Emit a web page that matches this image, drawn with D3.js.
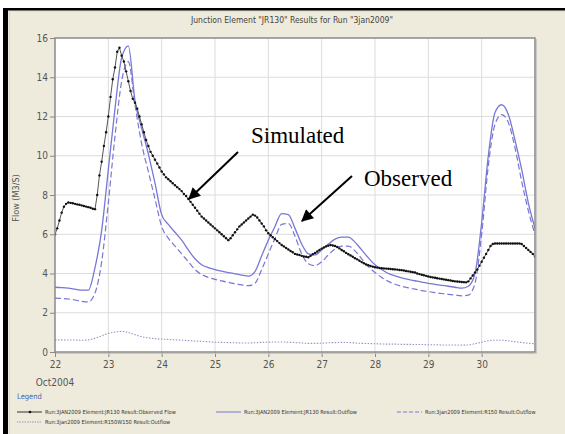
<!DOCTYPE html>
<html><head><meta charset="utf-8">
<script src="https://cdn.jsdelivr.net/npm/d3@7"></script>
<style>
html,body{margin:0;padding:0;background:#fff;}
svg{display:block;}
</style></head>
<body>
<svg id="chart" width="565" height="434"></svg>
<script>
// ---------------- DATA ----------------
const chartTitle = 'Junction Element "JR130" Results for Run "3jan2009"';
const yLabel = "Flow (M3/S)";
const xTickValues = [22, 23, 24, 25, 26, 27, 28, 29, 30];
const xTickLabels = ["22", "23", "24", "25", "26", "27", "28", "29", "30"];
const yTickValues = [0, 2, 4, 6, 8, 10, 12, 14, 16];
const monthLabel = "Oct2004";

// observed flow, hourly from Oct 22 00:00
const obsStartDay = 22, obsStepHours = 1;
const observedFlow = [
  6.0,6.3,6.7,7.1,7.4,7.55,7.62,7.6,7.58,7.55,7.52,7.5,7.47,7.44,7.41,7.38,7.35,7.3,7.28,8.0,9.0,9.7,10.5,11.2,
  12.0,13.0,13.9,14.5,15.3,15.5,15.1,14.8,14.3,13.8,13.3,12.9,12.7,12.4,12.0,11.6,11.2,10.8,10.5,10.2,10.0,9.8,9.6,9.4,
  9.2,9.05,8.9,8.8,8.7,8.6,8.5,8.4,8.3,8.2,8.05,7.95,7.8,7.65,7.5,7.35,7.2,7.05,6.9,6.8,6.7,6.6,6.5,6.4,
  6.3,6.2,6.1,6.0,5.9,5.8,5.7,5.8,5.95,6.1,6.25,6.4,6.5,6.6,6.7,6.8,6.9,7.0,6.95,6.85,6.7,6.55,6.4,6.2,
  6.05,5.95,5.85,5.75,5.65,5.55,5.45,5.38,5.3,5.22,5.15,5.08,5.0,4.97,4.94,4.9,4.87,4.85,4.83,4.9,4.98,5.05,5.12,5.2,
  5.27,5.33,5.38,5.42,5.45,5.43,5.4,5.35,5.28,5.2,5.13,5.05,4.98,4.92,4.85,4.78,4.72,4.65,4.58,4.52,4.46,4.42,4.38,4.35,
  4.32,4.3,4.28,4.27,4.26,4.25,4.24,4.23,4.22,4.21,4.2,4.18,4.17,4.15,4.13,4.11,4.09,4.07,4.05,4.0,3.97,3.94,3.91,3.88,
  3.85,3.82,3.8,3.78,3.76,3.74,3.72,3.7,3.68,3.66,3.64,3.62,3.6,3.59,3.58,3.57,3.56,3.55,3.6,3.75,3.9,4.05,4.2,4.4,
  4.6,4.8,5.0,5.2,5.4,5.5,5.53,5.53,5.53,5.53,5.53,5.53,5.53,5.53,5.53,5.53,5.53,5.53,5.5,5.4,5.3,5.2,5.1,5.0,
  4.85
];

// simulated results, every 3 hours from Oct 22 00:00
const simStartDay = 22, simStepHours = 3;
const jr130Outflow = [
  3.3,3.28,3.25,3.2,3.15,3.15,4.3,6.2,9.3,12.4,15.0,15.6,12.8,11.4,10.1,8.6,
  7.0,6.5,6.1,5.7,5.2,4.75,4.45,4.3,4.2,4.12,4.05,3.98,3.92,3.87,4.1,4.9,
  5.7,6.4,7.05,7.0,6.3,5.5,5.0,4.95,5.2,5.5,5.75,5.85,5.85,5.6,5.2,4.8,
  4.45,4.2,4.0,3.88,3.78,3.7,3.63,3.56,3.5,3.45,3.4,3.35,3.3,3.25,3.35,4.0,
  6.6,10.0,12.2,12.6,12.1,10.8,9.3,7.6,6.3
];
const r150Outflow = [
  2.75,2.73,2.7,2.65,2.58,2.55,3.0,4.6,7.6,11.0,13.8,14.8,12.6,10.6,9.2,7.8,
  6.4,5.8,5.4,5.0,4.6,4.2,3.95,3.8,3.7,3.62,3.55,3.48,3.42,3.38,3.5,4.2,
  5.0,5.8,6.5,6.55,5.9,5.0,4.5,4.4,4.6,4.95,5.25,5.4,5.4,5.15,4.75,4.35,
  4.05,3.8,3.6,3.45,3.35,3.27,3.2,3.13,3.08,3.03,2.98,2.94,2.9,2.86,2.9,3.5,
  6.0,9.5,11.6,12.1,11.7,10.4,8.7,7.2,6.0
];
const r150w150Outflow = [
  0.62,0.62,0.61,0.61,0.6,0.62,0.7,0.82,0.95,1.02,1.05,1.0,0.88,0.78,0.72,0.68,
  0.66,0.64,0.62,0.6,0.58,0.56,0.54,0.52,0.5,0.49,0.48,0.47,0.46,0.46,0.47,0.49,
  0.5,0.51,0.51,0.5,0.48,0.46,0.44,0.44,0.45,0.47,0.48,0.49,0.48,0.46,0.44,0.43,
  0.42,0.41,0.4,0.4,0.39,0.39,0.38,0.38,0.37,0.37,0.36,0.36,0.36,0.35,0.36,0.42,
  0.5,0.57,0.6,0.6,0.57,0.52,0.48,0.45,0.42
];

const legendLabels = [
  "Run:3JAN2009 Element:JR130 Result:Observed Flow",
  "Run:3JAN2009 Element:JR130 Result:Outflow",
  "Run:3jan2009 Element:R150 Result:Outflow",
  "Run:3jan2009 Element:R150W150 Result:Outflow"
];
const annotations = ["Simulated", "Observed"];

// ---------------- DRAW ----------------
const svg = d3.select("#chart");
const W = 565, H = 434;
const m = {left: 55, top: 38, right: 535, bottom: 352};

// frame
svg.append("rect").attr("x",0).attr("y",0).attr("width",W).attr("height",H).attr("fill","#ffffff");
svg.append("rect").attr("x",8).attr("y",10).attr("width",W-8).attr("height",H-10).attr("fill","#eeebdc");
svg.append("line").attr("x1",9.5).attr("x2",9.5).attr("y1",11).attr("y2",H).attr("stroke","#cfdcec").attr("stroke-width",1);
svg.append("line").attr("x1",9).attr("x2",W).attr("y1",11.5).attr("y2",11.5).attr("stroke","#d8e2ee").attr("stroke-width",1);
svg.append("rect").attr("x",3).attr("y",8).attr("width",5).attr("height",H-8).attr("fill","#000");
svg.append("rect").attr("x",3).attr("y",8).attr("width",W-3).attr("height",2.5).attr("fill","#000");

const sans = "'Liberation Sans Narrow','DejaVu Sans Condensed','Liberation Sans',sans-serif";

// title
svg.append("text").attr("x",292).attr("y",23).attr("text-anchor","middle")
  .attr("font-family",sans).attr("font-size",8.5).attr("fill","#444").text(chartTitle);

const x = d3.scaleLinear().domain([22,31]).range([m.left, m.right]);
const y = d3.scaleLinear().domain([0,16]).range([m.bottom, m.top]);

// plot background
svg.append("rect").attr("x",m.left).attr("y",m.top).attr("width",m.right-m.left).attr("height",m.bottom-m.top).attr("fill","#fff");

// grid
const grid = svg.append("g");
grid.selectAll("line.gx").data(xTickValues.slice(1)).join("line")
  .attr("x1",d=>x(d)).attr("x2",d=>x(d)).attr("y1",m.top).attr("y2",m.bottom)
  .attr("stroke","#dcdcdc").attr("stroke-width",1);
grid.selectAll("line.gy").data(yTickValues.slice(1,-1)).join("line")
  .attr("x1",m.left).attr("x2",m.right).attr("y1",d=>y(d)).attr("y2",d=>y(d))
  .attr("stroke","#dcdcdc").attr("stroke-width",1);

// axes
const yAxis = d3.axisLeft(y).tickValues(yTickValues).tickSize(5).tickPadding(2).tickFormat(d3.format("d"));
const gy = svg.append("g").attr("transform",`translate(${m.left},0)`).call(yAxis);
const xAxis = d3.axisBottom(x).tickValues(xTickValues).tickSize(5).tickPadding(4).tickFormat((d,i)=>xTickLabels[i]);
const gx = svg.append("g").attr("transform",`translate(0,${m.bottom})`).call(xAxis);
[gx, gy].forEach(g=>{
  g.select(".domain").remove();
  g.selectAll(".tick line").attr("stroke","#888");
  g.selectAll(".tick text").attr("font-family",sans).attr("font-size",10).attr("fill","#555");
});

svg.append("text").attr("x",55).attr("y",386).attr("text-anchor","middle")
  .attr("font-family",sans).attr("font-size",10).attr("fill","#555").text(monthLabel);

svg.append("text").attr("transform","translate(19,198) rotate(-90)").attr("text-anchor","middle")
  .attr("font-family",sans).attr("font-size",9).attr("fill","#555").text(yLabel);

// clip
svg.append("clipPath").attr("id","clip").append("rect")
  .attr("x",m.left).attr("y",m.top-2).attr("width",m.right-m.left).attr("height",m.bottom-m.top+2);

const plot = svg.append("g").attr("clip-path","url(#clip)");

const obsPts = observedFlow.map((v,i)=>({t: obsStartDay + i*obsStepHours/24, v}));
const simPts = arr => arr.map((v,i)=>({t: simStartDay + i*simStepHours/24, v}));

const smooth = d3.line().x(d=>x(d.t)).y(d=>y(d.v)).curve(d3.curveMonotoneX);
const straight = d3.line().x(d=>x(d.t)).y(d=>y(d.v));

const blue = "#7777d6";
plot.append("path").datum(simPts(r150w150Outflow)).attr("d",smooth)
  .attr("fill","none").attr("stroke","#9c90c8").attr("stroke-width",1.1).attr("stroke-dasharray","1.5,1.5");
plot.append("path").datum(simPts(r150Outflow)).attr("d",smooth)
  .attr("fill","none").attr("stroke",blue).attr("stroke-width",1.2).attr("stroke-dasharray","6,3");
plot.append("path").datum(simPts(jr130Outflow)).attr("d",smooth)
  .attr("fill","none").attr("stroke",blue).attr("stroke-width",1.3);
plot.append("path").datum(obsPts).attr("d",straight)
  .attr("fill","none").attr("stroke","#555").attr("stroke-width",1);
plot.selectAll("circle.obs").data(obsPts).join("circle")
  .attr("cx",d=>x(d.t)).attr("cy",d=>y(d.v)).attr("r",1.2).attr("fill","#111");

// plot border
svg.append("rect").attr("x",m.left).attr("y",m.top).attr("width",m.right-m.left).attr("height",m.bottom-m.top)
  .attr("fill","none").attr("stroke","#8a8a8a").attr("stroke-width",1.5);
svg.append("line").attr("x1",m.right+1.5).attr("x2",m.right+1.5).attr("y1",m.top+1).attr("y2",m.bottom+2)
  .attr("stroke","#c8c8c8").attr("stroke-width",1);
svg.append("line").attr("x1",m.left+1).attr("x2",m.right+2).attr("y1",m.bottom+1.5).attr("y2",m.bottom+1.5)
  .attr("stroke","#c8c8c8").attr("stroke-width",1);

// annotations
const defs = svg.append("defs");
defs.append("marker").attr("id","arrow").attr("viewBox","0 0 10 10").attr("refX",9).attr("refY",5)
  .attr("markerWidth",7).attr("markerHeight",6).attr("markerUnits","strokeWidth").attr("orient","auto")
  .append("path").attr("d","M0,0 L10,5 L0,10 Z").attr("fill","#000");

const serif = "'Liberation Serif','Times New Roman',serif";
svg.append("text").attr("x",251).attr("y",143).attr("font-family",serif).attr("font-size",23).attr("fill","#000").text(annotations[0]);
svg.append("text").attr("x",364).attr("y",186).attr("font-family",serif).attr("font-size",23).attr("fill","#000").text(annotations[1]);
svg.append("line").attr("x1",238).attr("y1",152).attr("x2",189).attr("y2",199)
  .attr("stroke","#000").attr("stroke-width",2).attr("marker-end","url(#arrow)");
svg.append("line").attr("x1",352).attr("y1",176).attr("x2",302).attr("y2",221)
  .attr("stroke","#000").attr("stroke-width",2).attr("marker-end","url(#arrow)");

// legend
svg.append("text").attr("x",17).attr("y",399).attr("font-family",sans).attr("font-size",7.5).attr("fill","#3b63b8").text("Legend");
const lg = svg.append("g").attr("font-family",sans).attr("font-size",5.6).attr("fill","#333");
const legendItems = [
  {x:17, y:412, stroke:"#333", dash:null, marker:true},
  {x:216, y:412, stroke:blue, dash:null, marker:false},
  {x:397, y:412, stroke:blue, dash:"4,2", marker:false},
  {x:17, y:422, stroke:"#9c90c8", dash:"1.5,1", marker:false}
];
legendItems.forEach((it,i)=>{
  lg.append("line").attr("x1",it.x).attr("x2",it.x+25).attr("y1",it.y).attr("y2",it.y)
    .attr("stroke",it.stroke).attr("stroke-width",1).attr("stroke-dasharray",it.dash);
  if(it.marker) lg.append("circle").attr("cx",it.x+13).attr("cy",it.y).attr("r",1.3).attr("fill","#111");
  lg.append("text").attr("x",it.x+28).attr("y",it.y+2).text(legendLabels[i]);
});
</script>
</body></html>
